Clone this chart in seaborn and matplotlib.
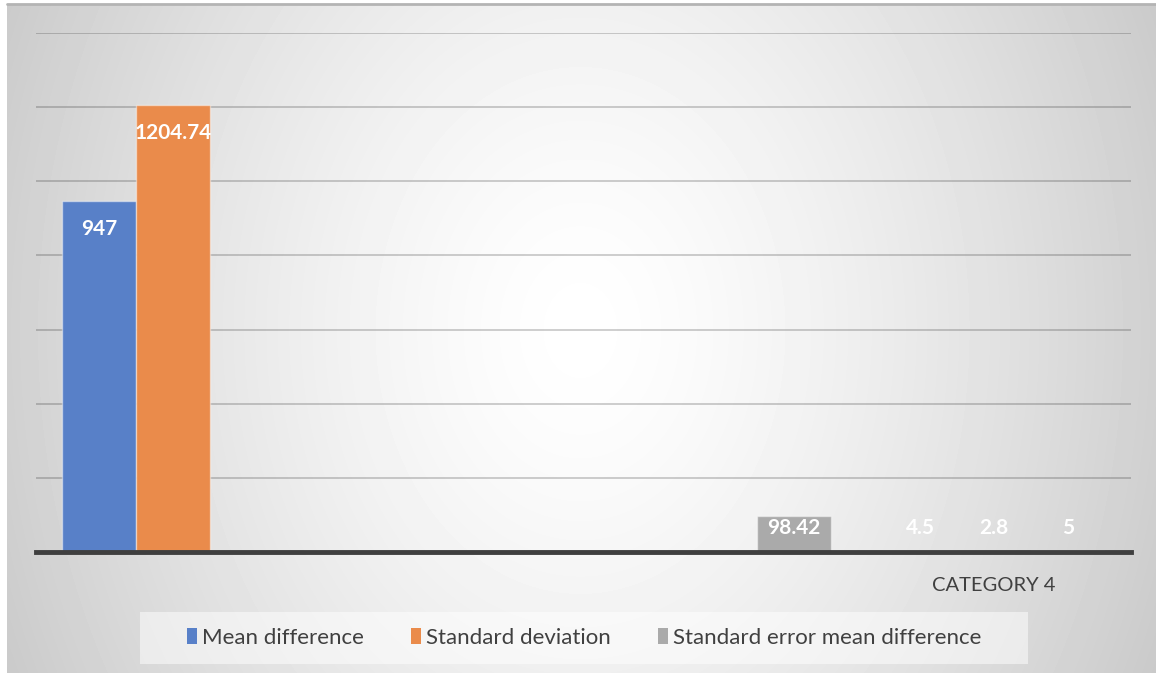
import numpy as np
import pandas as pd
import matplotlib
matplotlib.use("Agg")
import matplotlib.pyplot as plt
from matplotlib.patches import Patch, Rectangle
import seaborn as sns

# ---- data ----
categories = ["Category 1", "Category 2", "Category 3", "Category 4"]
tick_labels = ["", "", "", "CATEGORY 4"]
series = ["Mean difference", "Standard deviation", "Standard error mean difference"]
mean_difference = [947, None, None, 4.5]
standard_deviation = [1204.74, None, None, 2.8]
se_mean_difference = [None, None, 98.42, 5]
colors = ["#5880c8", "#ea8b4b", "#aaaaaa"]

rows = []
for name, vals in zip(series, [mean_difference, standard_deviation, se_mean_difference]):
    for cat, v in zip(categories, vals):
        if v is not None:
            rows.append({"category": cat, "series": name, "value": v})
df = pd.DataFrame(rows)

sns.set_theme(style="white")
plt.rcParams["font.family"] = ["Lato", "DejaVu Sans"]

W, H = 1156, 675
fig = plt.figure(figsize=(W / 100, H / 100), dpi=100)
fig.patch.set_facecolor("white")

# soft radial background behind the chart
bg = fig.add_axes([7 / W, (H - 673) / H, (W - 7) / W, (673 - 4) / H], zorder=0)
yy, xx = np.mgrid[4:673, 7:W]
r = np.sqrt(((xx - 580) / 700.0) ** 2 + ((yy - 330) / 900.0) ** 2)
shade = 1.0 - 0.24 * np.clip(r, 0, 1.1) ** 1.4
bg.imshow(shade, cmap="gray", vmin=0, vmax=1, aspect="auto", interpolation="bilinear")
bg.set_axis_off()
fig.add_artist(plt.Line2D([7 / W, 1], [(H - 4) / H] * 2, color="#b4b4b4", lw=2,
                          transform=fig.transFigure))

# main plotting area
ax = fig.add_axes([36 / W, (H - 552) / H, (1131 - 36) / W, (552 - 33) / H], zorder=1)
ax.patch.set_alpha(0)
sns.barplot(data=df, x="category", y="value", hue="series", order=categories,
            hue_order=series, palette=colors, width=0.81, saturation=1,
            edgecolor=(1, 1, 1, 0.45), linewidth=1, legend=False, ax=ax)

ax.set_ylim(0, 1400)
ax.set_yticks(np.arange(0, 1401, 200))
ax.set_yticklabels([])
ax.yaxis.grid(True, color="#000000", alpha=0.22, lw=1.2)
ax.set_axisbelow(True)
ax.set_xlim(-0.5, 3.5)
ax.set_xticks(range(len(categories)), tick_labels)
ax.tick_params(axis="x", length=0, pad=18, labelsize=14.5, labelcolor="#404040")
ax.tick_params(axis="y", length=0)
ax.set_xlabel("")
ax.set_ylabel("")
for s in ["top", "left", "right"]:
    ax.spines[s].set_visible(False)
ax.spines["bottom"].set_color("#3f3f3f")
ax.spines["bottom"].set_linewidth(3.5)
ax.spines["bottom"].set_zorder(5)

# value labels inside the bar ends
px_per_unit = (552 - 33) / 1400.0
for bar in ax.patches:
    h = bar.get_height()
    if np.isnan(h):
        continue
    cx = bar.get_x() + bar.get_width() / 2
    if bar.get_x() > 2.5:
        bar.set_facecolor((1, 1, 1, 0.7))
        bar.set_edgecolor("none")
    if h * px_per_unit > 56:
        xy, off = (cx, h), (0, -28)
    else:
        xy, off = (cx, 0), (0, 24)
    ax.annotate(f"{h:g}", xy=xy, xytext=off, textcoords="offset pixels",
                ha="center", va="center", color="white", fontsize=15,
                fontweight="bold", zorder=6)

handles = [Patch(facecolor=c, edgecolor="none") for c in colors]
leg = fig.legend(handles, series, loc="center", bbox_to_anchor=(584 / W, (H - 638) / H),
                 ncol=3, frameon=False, handlelength=0.45, handleheight=0.75,
                 handletextpad=0.25, columnspacing=2.1, fontsize=16, borderpad=0.55,
                 borderaxespad=0, labelcolor="#404040")
leg.set_zorder(3)

# wide translucent panel behind the legend entries
fig.canvas.draw()
bb = leg.get_window_extent()
pad_x, pad_y = 34, 4
panel = Rectangle((bb.x0 - pad_x, bb.y0 - pad_y), bb.width + 2 * pad_x,
                  bb.height + 2 * pad_y, transform=None, facecolor="white",
                  alpha=0.5, edgecolor="none", zorder=2)
fig.add_artist(panel)

fig.savefig("out.png", dpi=100)
